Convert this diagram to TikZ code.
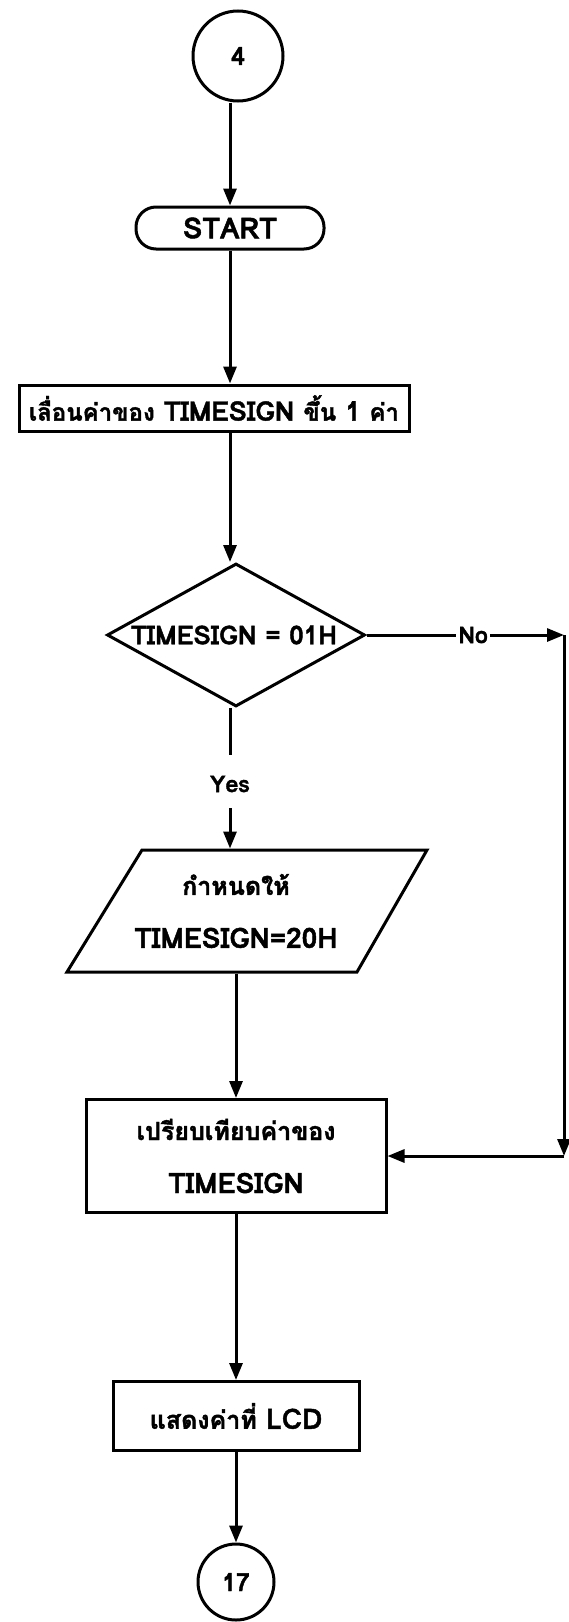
\documentclass[tikz,border=0pt]{standalone}
\usepackage{fontspec}
\setmainfont{Liberation Sans}
\newfontfamily\thaifont[Script=Thai,BoldFeatures={FakeBold=1.6}]{Loma}
\newcommand\thtxt[1]{{\fontsize{25}{52}\selectfont #1}}
\newcommand\thsmall[1]{{\fontsize{24}{52}\selectfont #1}}
\usetikzlibrary{arrows.meta,shapes.geometric}
\begin{document}
\begin{tikzpicture}[x=1pt,y=-1pt,
  line width=3pt,
  every node/.style={font=\thaifont\bfseries\fontsize{28}{53}\selectfont, inner sep=0pt},
  arr/.style={-{Triangle[length=17pt,width=13pt]}},
  conn/.style={draw, circle, font=\thaifont\bfseries\fontsize{25}{30}\selectfont},
  proc/.style={draw, rectangle, align=center},
  term/.style={draw, rectangle, rounded corners=20pt},
  dec/.style={draw, diamond},
  lbl/.style={font=\thaifont\bfseries\fontsize{23}{26}\selectfont}]
\useasboundingbox (0,0) rectangle (569,1622);
% nodes
\node[conn, minimum size=90pt] (c4) at (238,56) {4};
\node[term, minimum width=188pt, minimum height=42pt, font=\thaifont\bfseries\fontsize{29}{34}\selectfont] (start) at (230,228) {START};
\node[proc, minimum width=390pt, minimum height=46pt, font=\thaifont\bfseries\fontsize{27}{34}\selectfont] (b1) at (214,408) {\thsmall{เลื่อนค่าของ} TIMESIGN \thsmall{ขึ้น} 1 \thsmall{ค่า}};
\node[dec, minimum width=258pt, minimum height=143pt] (d1) at (236,635) {};
\node[font=\thaifont\bfseries\fontsize{26}{30}\selectfont] (d1t) at (234,635) {TIMESIGN = 01H};
\node[align=center, minimum height=122pt] (para) at (236,911) {\thtxt{กำหนดให้}\\TIMESIGN=20H};
\draw (142,850) -- (427,850) -- (357,972) -- (67,972) -- cycle;
\node[proc, minimum width=300pt, minimum height=113pt] (b2) at (236,1156) {\thtxt{เปรียบเทียบค่าของ}\\TIMESIGN};
\node[proc, minimum width=246pt, minimum height=69pt] (b3) at (236,1416) {\thtxt{แสดงค่าที่} LCD};
\node[conn, minimum size=76pt] (c17) at (236,1582) {17};
% connectors
\draw[arr] (c4.south -| start.north) -- (start.north);
\draw[arr] (start.south) -- (start.south |- b1.north);
\draw[arr] (start.south |- b1.south) -- (start.south |- d1.north);
\coordinate (ya) at (230,755);
\coordinate (yb) at (230,808);
\draw (start.south |- d1.south) -- (ya);
\node[lbl] (yes) at (230,784) {Yes};
\draw[arr] (yb) -- (yb |- para.north);
\draw[arr] (para.south) -- (b2.north);
\draw[arr] (b2.south) -- (b3.north);
\draw[arr] (b3.south) -- (c17.north);
\coordinate (ne) at (564,635);
\coordinate (se) at (564,1156);
\draw[arr] (d1.east) -- node[lbl, pos=0.54, fill=white, inner xsep=2pt] (no) {No} (ne);
\draw[arr] (ne) -- (se);
\draw[arr] (se) -- (b2.east);
\end{tikzpicture}
\end{document}
